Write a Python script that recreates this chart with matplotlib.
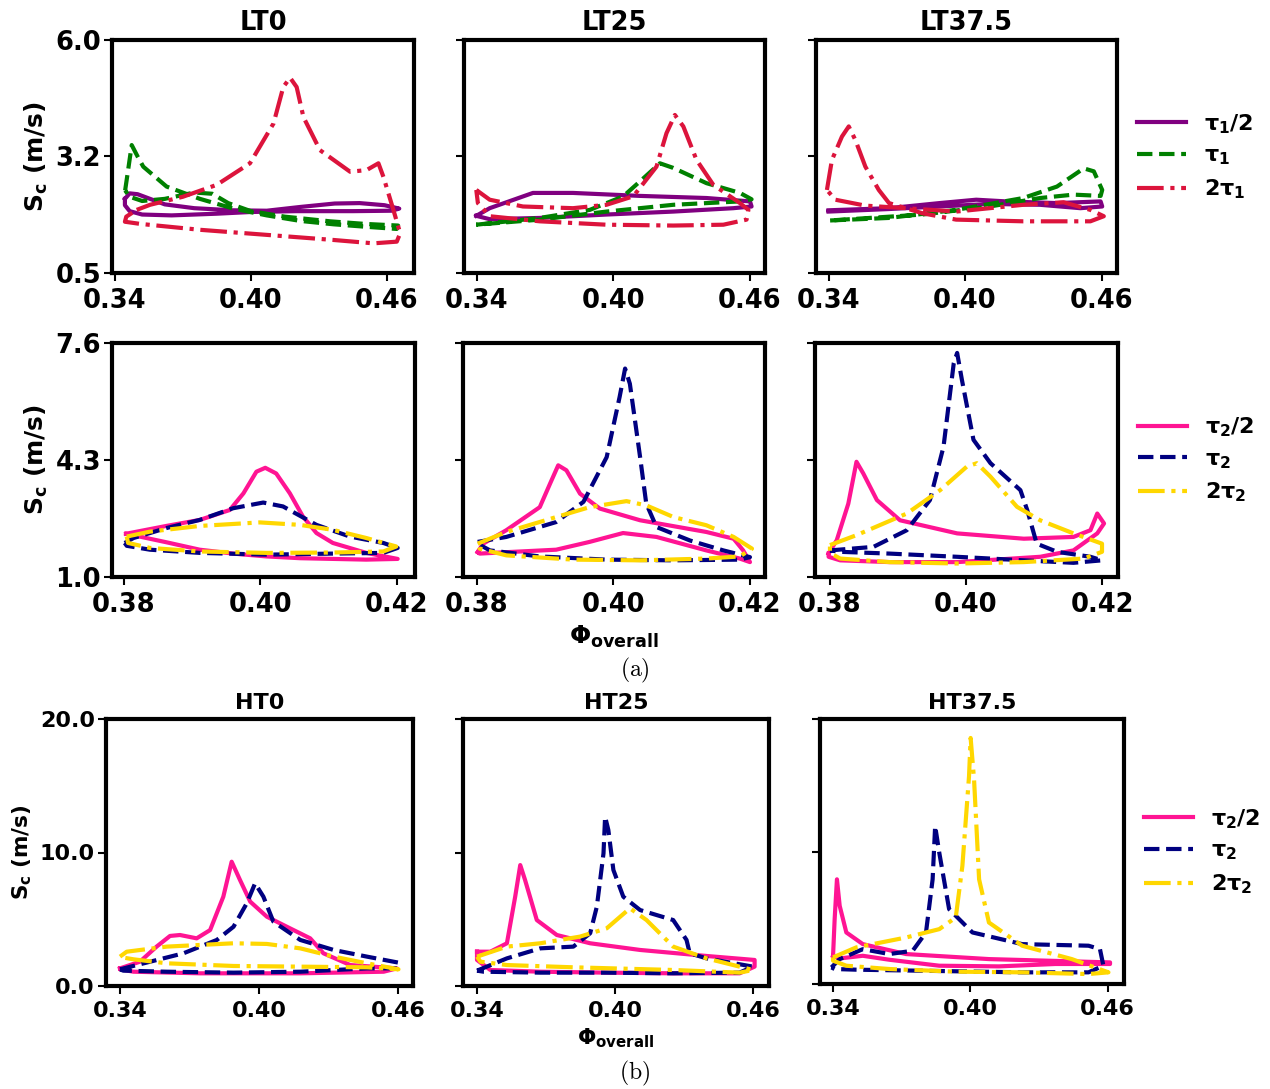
import numpy as np
import matplotlib.pyplot as plt
from matplotlib.ticker import FormatStrFormatter

plt.rcParams['font.family'] = ['DejaVu Sans']
plt.rcParams['font.weight'] = 'bold'
plt.rcParams['axes.labelweight'] = 'bold'
plt.rcParams['axes.titleweight'] = 'bold'
plt.rcParams['mathtext.default'] = 'bf'

# (phi_overall, S_c) traced around each closed loop
# --- low-temperature cases, tau_1 family
LT0_half = [(0.3444, 2.25), (0.3465, 2.38), (0.350, 2.36), (0.362, 2.12), (0.375, 2.03), (0.392, 1.98),
            (0.407, 1.97), (0.422, 2.06), (0.437, 2.14), (0.448, 2.15), (0.459, 2.10), (0.4655, 2.02),
            (0.462, 1.97), (0.445, 1.96), (0.420, 1.96), (0.400, 1.94), (0.385, 1.90), (0.365, 1.86),
            (0.352, 1.88), (0.3465, 1.96), (0.3444, 2.10), (0.3444, 2.25)]
LT0_one = [(0.3445, 2.45), (0.3460, 3.0), (0.3474, 3.52), (0.3500, 3.25), (0.3525, 3.01), (0.3628, 2.54),
           (0.3775, 2.25), (0.3923, 2.02), (0.407, 1.86), (0.4217, 1.73), (0.4364, 1.65), (0.4511, 1.59),
           (0.4644, 1.54), (0.4650, 1.62), (0.450, 1.66), (0.435, 1.72), (0.415, 1.83), (0.400, 1.96),
           (0.390, 2.15), (0.383, 2.37), (0.375, 2.40), (0.362, 2.25), (0.352, 2.20), (0.3465, 2.30),
           (0.3445, 2.45)]
LT0_two = [(0.3496, 1.99), (0.3555, 2.11), (0.370, 2.30), (0.3849, 2.58), (0.3996, 3.09), (0.410, 4.03),
           (0.4143, 4.89), (0.4173, 5.11), (0.4202, 4.89), (0.4232, 4.18), (0.4305, 3.40), (0.4438, 2.89),
           (0.4511, 2.93), (0.4563, 3.09), (0.4585, 2.77), (0.4629, 1.99), (0.4659, 1.44), (0.4644, 1.24),
           (0.4541, 1.20), (0.4364, 1.28), (0.407, 1.40), (0.3775, 1.52), (0.351, 1.66), (0.3444, 1.71),
           (0.345, 1.83), (0.3496, 1.99)]

LT25_half = [(0.3397, 1.85), (0.3456, 2.03), (0.3646, 2.39), (0.3822, 2.39), (0.4116, 2.32), (0.4409, 2.27),
             (0.4600, 2.19), (0.4607, 2.07), (0.4527, 2.03), (0.4263, 1.95), (0.3969, 1.88), (0.3676, 1.80),
             (0.3456, 1.77), (0.3397, 1.85)]
LT25_one = [(0.3397, 1.64), (0.3676, 1.80), (0.3896, 1.99), (0.4043, 2.31), (0.4116, 2.66), (0.4204, 3.09),
            (0.4263, 2.98), (0.4409, 2.62), (0.4556, 2.39), (0.4607, 2.24), (0.4556, 2.19), (0.4263, 2.11),
            (0.3969, 1.95), (0.3676, 1.76), (0.3397, 1.64)]
LT25_two = [(0.3397, 2.46), (0.3456, 2.23), (0.3602, 2.07), (0.3822, 2.03), (0.3969, 2.11), (0.4087, 2.31),
            (0.4189, 3.01), (0.4233, 3.80), (0.4270, 4.23), (0.4307, 3.96), (0.4365, 3.17), (0.4439, 2.58),
            (0.4556, 2.15), (0.4593, 1.99), (0.4585, 1.76), (0.4483, 1.64), (0.4263, 1.62), (0.3969, 1.64),
            (0.3676, 1.72), (0.3456, 1.84), (0.3404, 2.15), (0.3397, 2.46)]

LT375_half = [(0.3400, 1.98), (0.3666, 2.03), (0.3887, 2.15), (0.4049, 2.23), (0.4182, 2.19), (0.4404, 2.15),
              (0.4596, 2.19), (0.4603, 2.07), (0.4507, 2.03), (0.4330, 2.11), (0.4109, 2.13), (0.3887, 2.07),
              (0.3666, 2.01), (0.3400, 1.95)]
LT375_one = [(0.3407, 1.74), (0.3666, 1.80), (0.3961, 1.99), (0.4256, 2.27), (0.4404, 2.54), (0.4522, 2.97),
             (0.4566, 2.90), (0.4603, 2.46), (0.4596, 2.32), (0.4477, 2.35), (0.4330, 2.27), (0.4109, 2.07),
             (0.3813, 1.88), (0.3407, 1.74)]
LT375_two = [(0.3393, 2.46), (0.3415, 3.17), (0.3459, 3.72), (0.3489, 3.96), (0.3518, 3.64), (0.3562, 3.01),
             (0.3621, 2.46), (0.3666, 2.15), (0.3813, 1.91), (0.3961, 1.76), (0.4256, 1.72), (0.4551, 1.72),
             (0.4610, 1.84), (0.4551, 1.99), (0.4433, 2.17), (0.4256, 2.11), (0.3961, 1.95), (0.3740, 2.03),
             (0.3562, 2.09), (0.3430, 2.23), (0.3393, 2.46)]

# --- low-temperature cases, tau_2 family
LT0_half2 = [(0.3803, 2.22), (0.3862, 2.44), (0.3911, 2.61), (0.3955, 2.89), (0.3975, 3.36), (0.3994, 3.97),
             (0.4007, 4.08), (0.4023, 3.92), (0.4043, 3.36), (0.4062, 2.71), (0.4082, 2.24), (0.4106, 1.96),
             (0.4155, 1.68), (0.4201, 1.51), (0.4155, 1.49), (0.4058, 1.53), (0.4009, 1.58), (0.3960, 1.66),
             (0.3911, 1.77), (0.3862, 1.98), (0.3823, 2.14), (0.3803, 2.22)]
LT0_one2 = [(0.3801, 1.96), (0.3814, 2.10), (0.3862, 2.38), (0.3911, 2.61), (0.3960, 2.94), (0.4004, 3.10),
            (0.4033, 2.99), (0.4082, 2.47), (0.4131, 2.14), (0.4180, 1.96), (0.4201, 1.82), (0.4180, 1.68),
            (0.4106, 1.66), (0.4009, 1.63), (0.3911, 1.68), (0.3838, 1.77), (0.3804, 1.88), (0.3801, 1.96)]
LT0_two2 = [(0.3804, 2.14), (0.3838, 2.28), (0.3911, 2.44), (0.3999, 2.54), (0.4058, 2.47), (0.4106, 2.33),
            (0.4155, 2.10), (0.4199, 1.86), (0.4180, 1.72), (0.4106, 1.69), (0.4009, 1.68), (0.3911, 1.72),
            (0.3838, 1.82), (0.3806, 1.96), (0.3804, 2.14)]

LT25_half2 = [(0.3801, 1.70), (0.3809, 1.94), (0.3843, 2.32), (0.3892, 2.97), (0.3907, 3.63), (0.3919, 4.15),
              (0.3931, 4.01), (0.3951, 3.35), (0.3980, 2.93), (0.4039, 2.60), (0.4136, 2.27), (0.4176, 2.08),
              (0.4190, 1.75), (0.4200, 1.42), (0.4185, 1.52), (0.4136, 1.75), (0.4063, 2.13), (0.4014, 2.24),
              (0.3965, 1.99), (0.3916, 1.77), (0.3843, 1.70), (0.3804, 1.66), (0.3801, 1.70)]
LT25_one2 = [(0.3801, 1.99), (0.3843, 2.13), (0.3916, 2.55), (0.3956, 3.12), (0.3990, 4.38), (0.4009, 6.08),
             (0.4017, 6.88), (0.4024, 6.45), (0.4039, 4.38), (0.4048, 3.07), (0.4063, 2.41), (0.4112, 2.03),
             (0.4161, 1.75), (0.4200, 1.56), (0.4185, 1.49), (0.4088, 1.47), (0.3990, 1.49), (0.3892, 1.58),
             (0.3819, 1.75), (0.3801, 1.94), (0.3801, 1.99)]
LT25_two2 = [(0.3801, 1.94), (0.3843, 2.27), (0.3916, 2.69), (0.3965, 2.97), (0.4019, 3.14), (0.4048, 3.02),
             (0.4088, 2.69), (0.4136, 2.46), (0.4176, 2.13), (0.4203, 1.80), (0.4185, 1.58), (0.4136, 1.52),
             (0.4039, 1.47), (0.3941, 1.49), (0.3843, 1.61), (0.3804, 1.80), (0.3801, 1.94)]

LT375_half2 = [(0.3798, 1.66), (0.3810, 2.04), (0.3827, 3.07), (0.3839, 4.25), (0.3849, 3.92), (0.3869, 3.17),
               (0.3903, 2.60), (0.3987, 2.23), (0.4085, 2.08), (0.4158, 2.13), (0.4183, 2.32), (0.4193, 2.79),
               (0.4203, 2.51), (0.4193, 2.23), (0.4158, 1.75), (0.4109, 1.57), (0.3987, 1.42), (0.3888, 1.42),
               (0.3815, 1.47), (0.3798, 1.57), (0.3798, 1.66)]
LT375_one2 = [(0.3800, 1.75), (0.3864, 1.85), (0.3913, 2.32), (0.3947, 3.17), (0.3967, 4.68), (0.3982, 7.03),
              (0.3987, 7.32), (0.3994, 6.56), (0.4011, 4.87), (0.4036, 4.21), (0.4080, 3.45), (0.4090, 2.89),
              (0.4104, 1.94), (0.4134, 1.71), (0.4183, 1.57), (0.4200, 1.47), (0.4158, 1.40), (0.4085, 1.47),
              (0.3987, 1.57), (0.3888, 1.66), (0.3815, 1.71), (0.3800, 1.75)]
LT375_two2 = [(0.3800, 1.90), (0.3839, 2.18), (0.3913, 2.79), (0.3962, 3.45), (0.4001, 4.11), (0.4016, 4.21),
              (0.4036, 3.83), (0.4075, 2.98), (0.4109, 2.60), (0.4158, 2.23), (0.4200, 1.94), (0.4200, 1.71),
              (0.4173, 1.52), (0.4085, 1.42), (0.3987, 1.38), (0.3888, 1.42), (0.3815, 1.52), (0.3800, 1.68),
              (0.3800, 1.90)]

# --- high-temperature cases, tau_2 family
HT0_half = [(0.3400, 1.32), (0.3486, 1.82), (0.3558, 2.95), (0.3616, 3.75), (0.3659, 3.82), (0.3731, 3.57),
            (0.3789, 4.19), (0.3846, 6.69), (0.3882, 9.31), (0.3918, 7.94), (0.3962, 6.32), (0.4034, 5.19),
            (0.4120, 4.44), (0.4221, 3.57), (0.4278, 2.45), (0.4394, 1.57), (0.4595, 1.32), (0.4538, 1.07),
            (0.4178, 0.95), (0.3746, 0.95), (0.3458, 1.07), (0.3400, 1.25), (0.3400, 1.32)]
HT0_one = [(0.3400, 1.25), (0.3530, 1.82), (0.3674, 2.45), (0.3818, 3.45), (0.3890, 4.44), (0.3947, 6.19),
           (0.3983, 7.69), (0.4019, 6.69), (0.4062, 4.82), (0.4178, 3.45), (0.4322, 2.70), (0.4466, 2.20),
           (0.4602, 1.75), (0.4595, 1.32), (0.4466, 1.32), (0.4178, 1.07), (0.3890, 1.00), (0.3602, 1.07),
           (0.3414, 1.15), (0.3400, 1.25)]
HT0_two = [(0.3400, 2.20), (0.3429, 2.57), (0.3602, 2.95), (0.3890, 3.20), (0.4034, 3.15), (0.4178, 2.82),
           (0.4322, 2.20), (0.4466, 1.70), (0.4602, 1.25), (0.4466, 1.40), (0.4178, 1.45), (0.3890, 1.50),
           (0.3602, 1.70), (0.3458, 2.00), (0.3407, 2.15), (0.3400, 2.20)]

HT25_half = [(0.3400, 2.57), (0.3458, 2.57), (0.3530, 3.20), (0.3566, 6.69), (0.3588, 9.06), (0.3609, 7.94),
             (0.3660, 4.94), (0.3747, 3.82), (0.3892, 3.20), (0.4109, 2.70), (0.4398, 2.25), (0.4607, 1.95),
             (0.4607, 1.45), (0.4542, 0.95), (0.4253, 0.95), (0.3964, 1.00), (0.3675, 1.07), (0.3458, 1.20),
             (0.3400, 1.95), (0.3400, 2.57)]
HT25_one = [(0.3400, 1.15), (0.3530, 2.07), (0.3675, 2.82), (0.3819, 2.95), (0.3892, 3.95), (0.3921, 5.94),
            (0.3950, 9.94), (0.3957, 12.68), (0.3971, 11.69), (0.3993, 8.69), (0.4036, 6.69), (0.4109, 5.69),
            (0.4253, 4.94), (0.4311, 3.45), (0.4325, 2.45), (0.4398, 2.07), (0.4600, 1.45), (0.4542, 1.00),
            (0.4253, 0.95), (0.3964, 1.00), (0.3675, 1.00), (0.3429, 1.07), (0.3400, 1.15)]
HT25_two = [(0.3400, 2.20), (0.3530, 2.95), (0.3675, 3.20), (0.3848, 3.70), (0.3964, 4.32), (0.4065, 5.82),
            (0.4137, 4.94), (0.4253, 2.95), (0.4398, 2.07), (0.4600, 1.20), (0.4542, 1.00), (0.4253, 1.20),
            (0.3819, 1.40), (0.3530, 1.57), (0.3415, 1.82), (0.3400, 2.20)]

HT375_half = [(0.3400, 2.13), (0.3407, 4.89), (0.3417, 7.90), (0.3429, 5.90), (0.3458, 3.89), (0.3530, 3.01),
              (0.3719, 2.26), (0.4081, 1.88), (0.4610, 1.63), (0.4610, 1.51), (0.4371, 1.51), (0.4125, 1.33),
              (0.3864, 1.38), (0.3646, 1.83), (0.3530, 2.13), (0.3429, 1.93), (0.3400, 2.13)]
HT375_one = [(0.3393, 1.25), (0.3429, 1.88), (0.3530, 2.63), (0.3646, 2.26), (0.3748, 2.51), (0.3806, 3.89),
             (0.3835, 7.90), (0.3846, 11.92), (0.3864, 9.91), (0.3907, 5.65), (0.4009, 3.89), (0.4226, 3.01),
             (0.4516, 2.89), (0.4566, 2.63), (0.4581, 1.38), (0.4516, 0.88), (0.4226, 0.88), (0.3791, 1.00),
             (0.3501, 1.08), (0.3407, 1.13), (0.3393, 1.25)]
HT375_two = [(0.3400, 2.01), (0.3501, 2.76), (0.3719, 3.51), (0.3864, 4.14), (0.3936, 5.02), (0.3965, 8.91),
             (0.3994, 15.68), (0.4001, 18.57), (0.4016, 15.43), (0.4038, 7.90), (0.4081, 4.64), (0.4226, 2.89),
             (0.4443, 1.88), (0.4603, 0.88), (0.4516, 0.75), (0.4226, 0.88), (0.3936, 0.93), (0.3646, 1.13),
             (0.3458, 1.38), (0.3400, 1.76), (0.3400, 2.01)]

titles_lt = ['LT0', 'LT25', 'LT37.5']
titles_ht = ['HT0', 'HT25', 'HT37.5']
labels_1 = ['τ$_1$/2', 'τ$_1$', '2τ$_1$']
labels_2 = ['τ$_2$/2', 'τ$_2$', '2τ$_2$']
colors_1 = ['purple', 'green', 'crimson']
colors_2 = ['deeppink', 'navy', 'gold']
styles = ['-', '--', '-.']

rows = [
    dict(curves=[LT0_half, LT0_one, LT0_two, LT25_half, LT25_one, LT25_two, LT375_half, LT375_one, LT375_two],
         titles=titles_lt, labels=labels_1, colors=colors_1, yticks=np.linspace(0.5, 6.0, 3),
         xticks=[0.34, 0.40, 0.46],
         xlims=[(0.3387, 0.4720), (0.3343, 0.4666), (0.3345, 0.4668)],
         boxes=[(112, 40, 302, 233), (464, 40, 301, 233), (816, 40, 301, 233)],
         fs=18.5, lfs=18, xlabel=False),
    dict(curves=[LT0_half2, LT0_one2, LT0_two2, LT25_half2, LT25_one2, LT25_two2,
                 LT375_half2, LT375_one2, LT375_two2],
         titles=None, labels=labels_2, colors=colors_2, yticks=np.linspace(1.0, 7.6, 3),
         xticks=[0.38, 0.40, 0.42],
         xlims=[(0.37824, 0.42264), (0.37795, 0.42220), (0.37780, 0.42235)],
         boxes=[(112, 343, 303, 234), (463, 343, 302, 234), (815, 343, 303, 234)],
         fs=18.5, lfs=18, xlabel=True),
    dict(curves=[HT0_half, HT0_one, HT0_two, HT25_half, HT25_one, HT25_two, HT375_half, HT375_one, HT375_two],
         titles=titles_ht, labels=labels_2, colors=colors_2, yticks=np.linspace(0.0, 20.0, 3),
         xticks=[0.34, 0.40, 0.46],
         xlims=[(0.33396, 0.46647), (0.33391, 0.46696), (0.3343, 0.4671)],
         boxes=[(106, 719, 307, 267), (463, 719, 306, 267), (820, 719, 304, 265)],
         fs=16, lfs=15.5, xlabel=True),
]

W, H = 1270, 1089
fig = plt.figure(figsize=(W / 100, H / 100), dpi=100)

for r, row in enumerate(rows):
    for i in range(3):
        x0, y0, w, h = row['boxes'][i]
        ax = fig.add_axes([x0 / W, 1 - (y0 + h) / H, w / W, h / H])
        for k in range(3):
            pts = np.array(row['curves'][3 * i + k])
            ax.plot(pts[:, 0], pts[:, 1], color=row['colors'][k], ls=styles[k], lw=3,
                    solid_joinstyle='round', dash_joinstyle='round', label=row['labels'][k])
        ax.set_xlim(row['xlims'][i])
        ax.set_ylim(row['yticks'][0], row['yticks'][-1])
        ax.set_xticks(row['xticks'])
        ax.set_yticks(row['yticks'])
        ax.xaxis.set_major_formatter(FormatStrFormatter('%.2f'))
        ax.yaxis.set_major_formatter(FormatStrFormatter('%.1f'))
        ax.tick_params(axis='both', length=6, width=1.5, labelsize=row['fs'])
        ax.tick_params(axis='x', pad=5)
        ax.tick_params(axis='y', pad=2)
        for sp in ax.spines.values():
            sp.set_linewidth(3)
        if row['titles']:
            ax.set_title(row['titles'][i], fontsize=row['fs'], fontweight='bold', pad=7)
        if i == 0:
            ax.set_ylabel('S$_c$ (m/s)', fontsize=row['lfs'], fontweight='bold', labelpad=4)
        else:
            ax.set_yticklabels([])
        if i == 1 and row['xlabel']:
            ax.set_xlabel('Φ$_{overall}$', fontsize=row['lfs'], fontweight='bold', labelpad=4)
        if i == 2:
            ax.legend(loc='center left', bbox_to_anchor=(1.0, 0.5), frameon=False,
                      fontsize=16, handlelength=2.2, handletextpad=0.8, labelspacing=0.45)

fig.text(0.5, 1 - 670 / H, r'$\mathrm{(a)}$', ha='center', va='center', fontsize=17, math_fontfamily='cm')
fig.text(0.5, 1 - 1073 / H, r'$\mathrm{(b)}$', ha='center', va='center', fontsize=17, math_fontfamily='cm')

fig.savefig('out.png', dpi=100)
